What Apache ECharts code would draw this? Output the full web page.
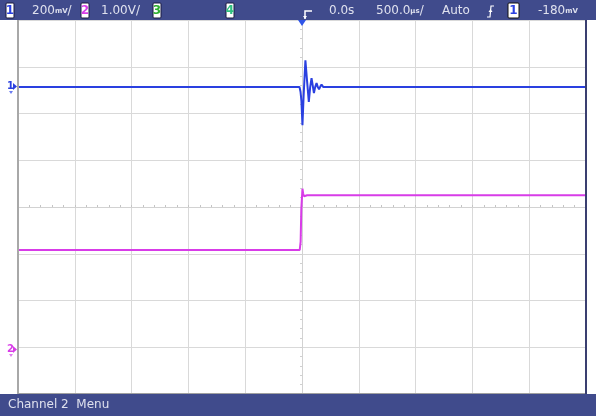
<!DOCTYPE html>
<html>
<head>
<meta charset="utf-8">
<script src="https://cdn.jsdelivr.net/npm/echarts@6/dist/echarts.min.js"></script>
<style>
html,body{margin:0;padding:0;background:#fff;}
#c{width:596px;height:416px;}
</style>
</head>
<body>
<div id="c"></div>
<script>
// Time axis (µs), 500 µs/div, 10 divisions
var timeTicks = [-2500, -2000, -1500, -1000, -500, 0, 500, 1000, 1500, 2000, 2500];
// Channel 1 (mV), 200 mV/div
var ch1Time = [-2500, -22, -13, -5, 4, 14, 30, 44, 60, 72, 84, 95, 105, 116, 128, 139, 150, 161, 172, 188, 205, 2500];
var ch1Vals = [0, 0, -20, -60, -163, -40, 115, 30, -63, 0, 38, 5, -26, 0, 17, 0, -9, 2, 11, 0, 0, 0];
// Channel 2 (V), 1.00 V/div
var ch2Time = [-2500, -20, -12, -6, 4, 10, 18, 30, 45, 2500];
var ch2Vals = [2.12, 2.12, 2.3, 3.0, 3.43, 3.33, 3.27, 3.30, 3.29, 3.29];

var chart = echarts.init(document.getElementById('c'), null, {renderer: 'canvas'});
function pairs(t, v) { return t.map(function (x, i) { return [x, v[i]]; }); }

var BAR = '#404b8c';
var TXT = '#dfe1ee';
var FONT = '"DejaVu Sans", sans-serif';

function box(x, w, digit, color, stroke) {
  return [
    {type: 'rect', shape: {x: x, y: 3, width: w, height: 15, r: 1}, style: {fill: '#ffffff', stroke: stroke || '#1a1a40', lineWidth: 1}, z: 10},
    {type: 'text', x: x + w / 2, y: 11, style: {text: digit, fill: color, font: 'bold 12px ' + FONT, textAlign: 'center', textVerticalAlign: 'middle'}, z: 11}
  ];
}
function label(x, txt) {
  return {type: 'text', x: x, y: 11, style: {text: txt, fill: TXT, font: '12px ' + FONT, textVerticalAlign: 'middle',
    rich: {u: {fontSize: 7, fontFamily: FONT, fill: TXT, fontWeight: 'bold'}}}, z: 11};
}

var graphics = [
  {type: 'rect', shape: {x: 0, y: 0, width: 596, height: 20}, style: {fill: BAR}, z: 5},
  {type: 'rect', shape: {x: 0, y: 394, width: 596, height: 22}, style: {fill: BAR}, z: 5},
  {type: 'rect', shape: {x: 17, y: 20, width: 2, height: 374}, style: {fill: '#a8a8a8'}, z: 4},
  {type: 'rect', shape: {x: 18, y: 393, width: 568, height: 1}, style: {fill: '#a0a0a0'}, z: 4},
  {type: 'rect', shape: {x: 585, y: 20, width: 2, height: 374}, style: {fill: '#3a3f70'}, z: 4},
  {type: 'text', x: 8, y: 405, style: {text: 'Channel 2  Menu', fill: TXT, font: '12px ' + FONT, textVerticalAlign: 'middle'}, z: 11},
  label(32, '200{u|mV}/'),
  label(101, '1.00V/'),
  label(329, '0.0s'),
  label(376, '500.0{u|µs}/'),
  label(442, 'Auto'),
  label(538, '-180{u|mV}'),
  // trigger point icon
  {type: 'polyline', shape: {points: [[312, 11], [305, 11], [305, 19]]}, style: {stroke: '#ffffff', lineWidth: 1.5, fill: null}, z: 11},
  {type: 'polygon', shape: {points: [[303, 16], [307, 16], [305, 19]]}, style: {fill: '#ffffff'}, z: 11},
  // trigger position marker
  {type: 'polygon', shape: {points: [[298, 20], [306, 20], [302, 26]]}, style: {fill: '#2f55e8'}, z: 11},
  // slope icon
  {type: 'polyline', shape: {points: [[487, 17], [490, 17], [491, 6], [494, 6]]}, style: {stroke: '#ffffff', lineWidth: 1.2, fill: null}, z: 11},
  {type: 'polygon', shape: {points: [[488.5, 12], [492.5, 12], [490.5, 9]]}, style: {fill: '#ffffff'}, z: 11},
  // ground markers
  {type: 'text', x: 7, y: 86, style: {text: '1', fill: '#2a40e0', font: 'bold 10px ' + FONT, textVerticalAlign: 'middle'}, z: 11},
  {type: 'polygon', shape: {points: [[13, 83], [17, 86.5], [13, 90]]}, style: {fill: '#2a40e0'}, z: 11},
  {type: 'polygon', shape: {points: [[9, 91], [13, 91], [11, 94]]}, style: {fill: '#6a7af0'}, z: 11},
  {type: 'text', x: 7, y: 349, style: {text: '2', fill: '#d83ce8', font: 'bold 10px ' + FONT, textVerticalAlign: 'middle'}, z: 11},
  {type: 'polygon', shape: {points: [[13, 346], [17, 349.5], [13, 353]]}, style: {fill: '#d83ce8'}, z: 11},
  {type: 'polygon', shape: {points: [[9, 354], [13, 354], [11, 357]]}, style: {fill: '#e07cf0'}, z: 11}
];
graphics = graphics.concat(box(6, 8, '1', '#2a40e0'), box(81, 8, '2', '#d83ce8'), box(153, 8, '3', '#30b030'), box(226, 8, '4', '#30c080'), box(508, 11, '1', '#2a40e0', '#101010'));

var grid = {left: 18, right: 10, top: 20, bottom: 22, containLabel: false};
var gridColor = '#d9d9d9';

var option = {
  animation: false,
  backgroundColor: '#ffffff',
  grid: grid,
  xAxis: [
    {type: 'value', min: timeTicks[0], max: timeTicks[timeTicks.length - 1], interval: 500,
      axisLabel: {show: false},
      axisLine: {show: true, onZero: true, onZeroAxisIndex: 2, lineStyle: {color: '#d2d2d2', width: 1}},
      axisTick: {show: true, inside: true, length: 2, lineStyle: {color: '#c4c4c4'}},
      minorTick: {show: true, splitNumber: 5, length: 2, lineStyle: {color: '#c4c4c4'}},
      splitLine: {show: true, lineStyle: {color: gridColor, width: 1}}},
    {type: 'value', min: timeTicks[0], max: timeTicks[timeTicks.length - 1], interval: 500,
      axisLabel: {show: false},
      axisLine: {show: false, onZero: true, onZeroAxisIndex: 2},
      axisTick: {show: true, inside: false, length: 2, lineStyle: {color: '#c4c4c4'}},
      minorTick: {show: true, splitNumber: 5, length: 2, lineStyle: {color: '#c4c4c4'}},
      splitLine: {show: false}}
  ],
  yAxis: [
    {type: 'value', min: -1313, max: 287, show: false},
    {type: 'value', min: -0.96, max: 7.04, show: false},
    {type: 'value', min: -4, max: 4, interval: 1,
      axisLabel: {show: false},
      axisLine: {show: true, onZero: true, onZeroAxisIndex: 0, lineStyle: {color: '#d2d2d2', width: 1}},
      axisTick: {show: true, inside: true, length: 2, lineStyle: {color: '#d0d0d0'}},
      minorTick: {show: true, splitNumber: 5, length: 2, lineStyle: {color: '#d0d0d0'}},
      splitLine: {show: true, lineStyle: {color: gridColor, width: 1}}}
  ],
  series: [
    {type: 'line', name: 'Channel 1', xAxisIndex: 0, yAxisIndex: 0, data: pairs(ch1Time, ch1Vals),
      showSymbol: false, lineStyle: {color: '#2a40e0', width: 2}, z: 3},
    {type: 'line', name: 'Channel 2', xAxisIndex: 0, yAxisIndex: 1, data: pairs(ch2Time, ch2Vals),
      showSymbol: false, lineStyle: {color: '#d83ce8', width: 2}, z: 3}
  ],
  graphic: graphics
};
chart.setOption(option);
</script>
</body>
</html>
